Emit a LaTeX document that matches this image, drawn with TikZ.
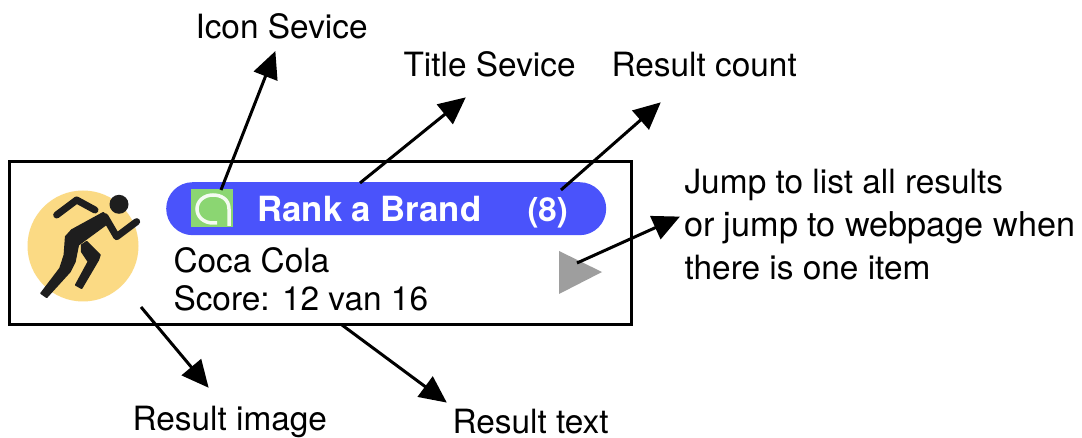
\documentclass[tikz,border=0pt]{standalone}
\usepackage{fontspec}
\setmainfont{TeX Gyre Heros}
\usetikzlibrary{arrows.meta}
\definecolor{pillblue}{HTML}{4A53FB}
\definecolor{sunny}{HTML}{FBDA84}
\definecolor{icongreen}{HTML}{8BD672}
\definecolor{playgrey}{HTML}{9E9E9E}
\definecolor{inkblack}{HTML}{1E1E1E}
\tikzset{
  lbl/.style={inner sep=0pt,outer sep=0pt,anchor=base west,font=\fontsize{33.4}{36}\selectfont,text=black},
  wide/.style={lbl,font=\fontsize{34.2}{36}\selectfont},
  boldlbl/.style={lbl,text=white,font=\fontsize{34.7}{36}\bfseries\selectfont},
  ptr/.style={line width=3pt,-{Triangle[length=27pt,width=25pt]},shorten >=-1pt},
  limb/.style={draw=inkblack,line cap=round,line join=round},
}
\begin{document}
\begin{tikzpicture}[x=1pt,y=-1pt]
\useasboundingbox (0,0) rectangle (1082,438);
\fill[white] (0,0) rectangle (1082,438);
% card
\node[draw=black,line width=3pt,outer sep=0pt,minimum width=622pt,minimum height=163pt,inner sep=0pt,anchor=center] (card) at (320.5,243) {};
% result image
\node[circle,fill=sunny,minimum size=111pt,inner sep=0pt] (photo) at (83,246) {};
\node[circle,fill=inkblack,minimum size=19pt,inner sep=0pt] (head) at (119,204.3) {};
\begin{scope}[shift={(35,190)},scale=0.33333]
\draw[limb,line width=7pt] (65,75) -- (125,30) -- (180,60);
\draw[limb,line width=7pt] (210,80) -- (245,140) -- (305,95);
\filldraw[fill=inkblack,limb,line width=1.5pt] (205,68) -- (225,95) -- (150,150) -- (130,165) -- (120,215) -- (105,245) -- (35,322) -- (18,310) -- (75,235) -- (88,195) -- (92,140) -- (110,120) -- cycle;
\filldraw[fill=inkblack,limb,line width=1.5pt] (140,165) -- (155,155) -- (195,195) -- (190,210) -- (140,295) -- (122,285) -- (160,215) -- (140,185) -- cycle;
\end{scope}
% title bar
\node[fill=pillblue,rounded corners=26.5pt,minimum width=440pt,minimum height=53pt,inner sep=0pt,anchor=north west] (bar) at (166,182) {};
\node[fill=icongreen,minimum width=42pt,minimum height=38pt,inner sep=0pt,anchor=north west] (icon) at (191,189) {};
\draw[white!90!icongreen,line width=3.5pt] (229,226) -- (229,209) .. controls (229,199) and (221,195) .. (213,195) .. controls (204,195) and (197,201) .. (197,209) .. controls (197,217) and (204,223) .. (213,223) -- (217,223);
\node[boldlbl] (title) at (257.5,222) {Rank a Brand};
\node[boldlbl,font=\fontsize{33}{36}\bfseries\selectfont] (count) at (527.5,222) {(8)};
\node[lbl] (name) at (173.5,273) {Coca Cola};
\node[lbl] (score) at (173.5,311) {Score: 12 van 16};
\fill[playgrey] (559,251) -- (602,272) -- (559,294) -- cycle;
% labels
\node[lbl] (iconlabel) at (195.5,39) {Icon Sevice};
\node[lbl] (titlelabel) at (403.5,77) {Title Sevice};
\node[lbl] (countlabel) at (611.5,77) {Result count};
\node[lbl] (jump1) at (684.5,194) {Jump to list all results};
\node[wide] (jump2) at (684,237) {or jump to webpage when};
\node[lbl] (jump3) at (684.5,280) {there is one item};
\node[lbl] (imagelabel) at (132.5,430) {Result image};
\node[lbl] (textlabel) at (452.5,433) {Result text};
% connector ends
\coordinate (a1) at (221,190);
\coordinate (a2) at (275,52);
\coordinate (b1) at (360,183);
\coordinate (b2) at (465,98);
\coordinate (c1) at (561,190);
\coordinate (c2) at (660,103);
\coordinate (d1) at (577,263);
\coordinate (d2) at (679,217);
\coordinate (e1) at (141,307);
\coordinate (e2) at (208,387);
\coordinate (f1) at (342,325);
\coordinate (f2) at (446,402);
\draw[ptr] (a1) -- (a2);
\draw[ptr] (b1) -- (b2);
\draw[ptr] (c1) -- (c2);
\draw[ptr] (d1) -- (d2);
\draw[ptr] (e1) -- (e2);
\draw[ptr] (f1) -- (f2);
\end{tikzpicture}
\end{document}
